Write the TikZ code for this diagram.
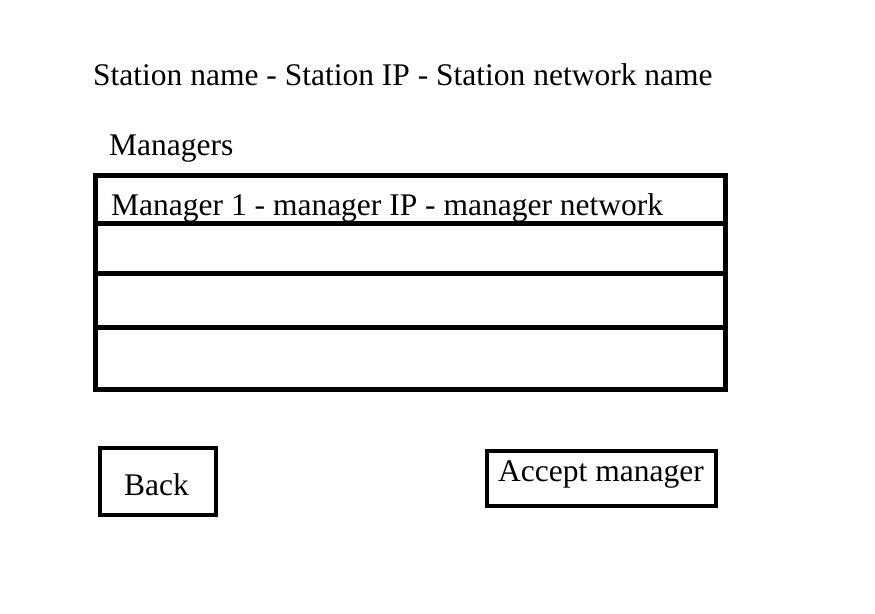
\documentclass[tikz,border=0pt]{standalone}
\usepackage{fontspec}
\setmainfont{Liberation Serif}
\usepackage{tikz}
\usetikzlibrary{positioning}
\tikzset{
    boxnode/.style={draw=black,line width=4.5pt,rectangle,inner sep=0pt},
    rownode/.style={boxnode,minimum width=630pt,anchor=north west},
    textnode/.style={anchor=base west,inner sep=0pt,font=\fontsize{31.5}{36}\selectfont},
    buttonnode/.style={boxnode,font=\fontsize{31.5}{36}\selectfont}
}
\begin{document}
\begin{tikzpicture}[x=1pt,y=-1pt]
\useasboundingbox (0,0) rectangle (875,613);

\node[textnode](title) at (93,85) {Station name - Station IP - Station network name};
\node[textnode](mgrs) at (109,155) {Managers};

\node[rownode,minimum height=48pt](rowA) at (93,173) {};
\node[rownode,minimum height=50pt](rowB) at (93,221) {};
\node[rownode,minimum height=54pt](rowC) at (93,271) {};
\node[rownode,minimum height=62pt](rowD) at (93,325) {};
\node[textnode](mgrA) at (111,215) {Manager 1 - manager IP - manager network};

\node[buttonnode,minimum width=116pt,minimum height=67pt](back) at (158,481.5) {};
\node[textnode](backtxt) at (124,495) {Back};
\node[buttonnode,minimum width=229pt,minimum height=55pt](accept) at (601.5,478.5) {};
\node[textnode](accepttxt) at (498,481) {Accept manager};

\end{tikzpicture}
\end{document}
